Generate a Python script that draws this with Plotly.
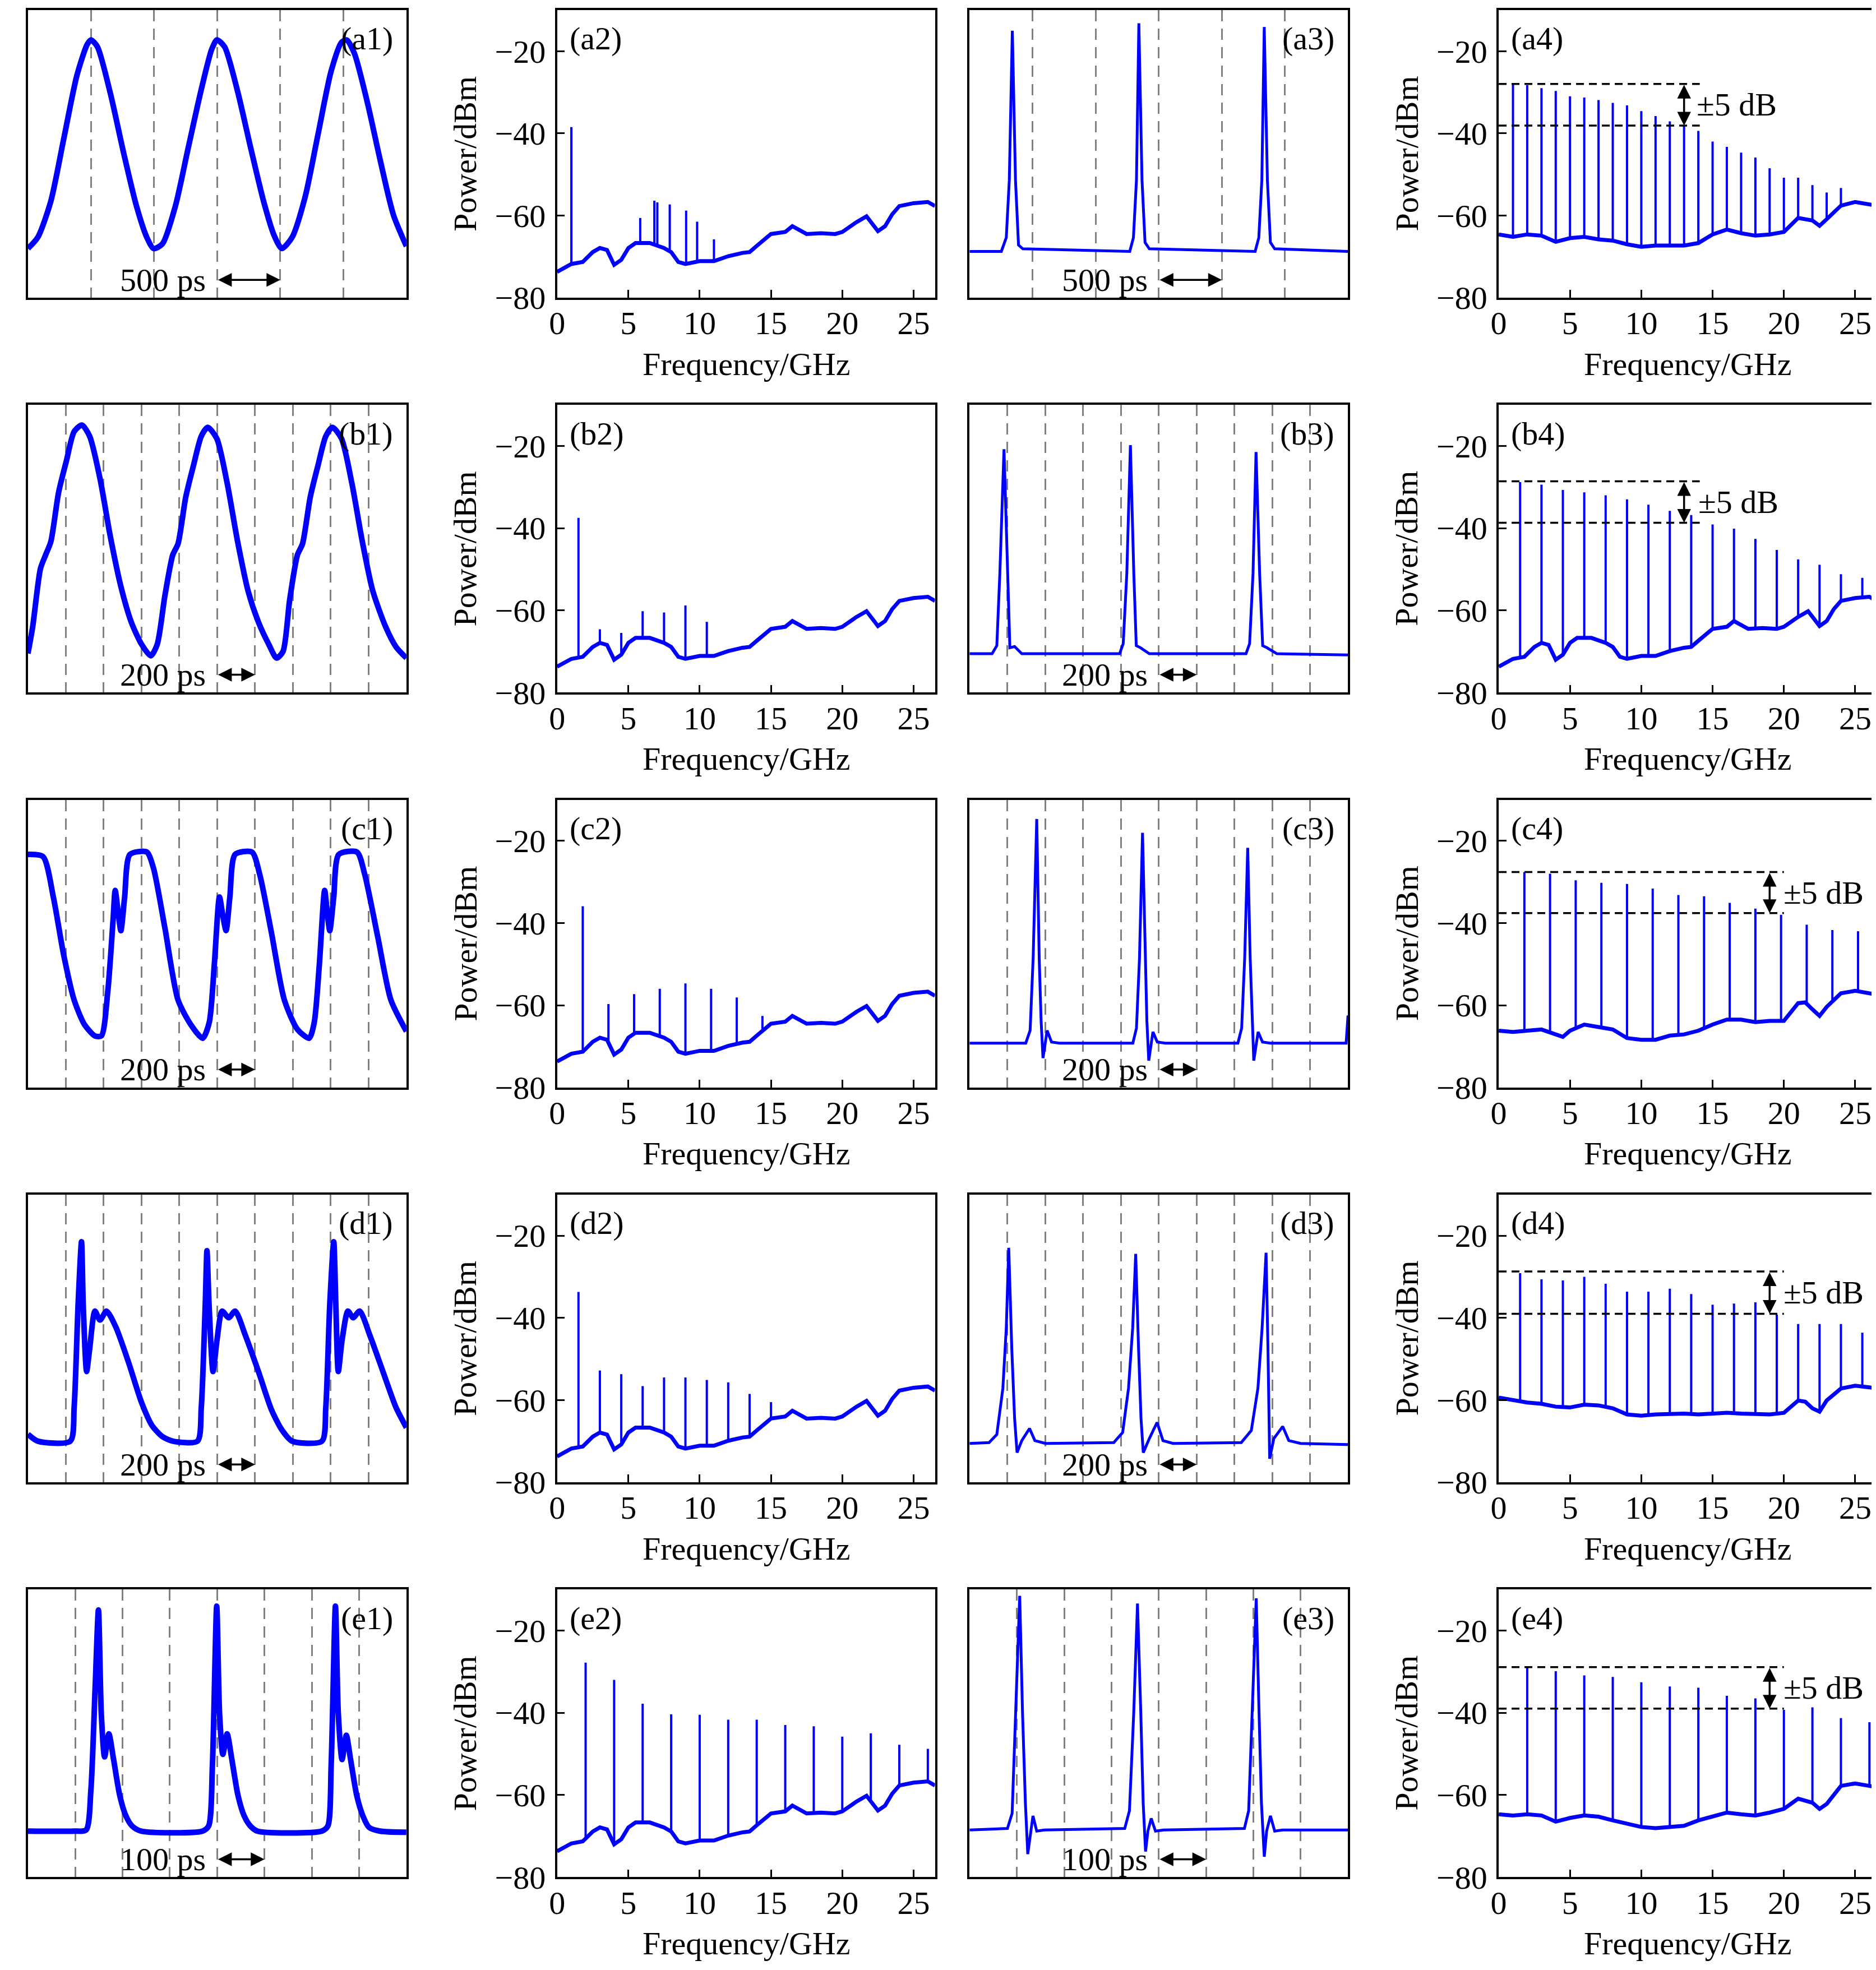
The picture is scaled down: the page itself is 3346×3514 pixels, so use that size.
import numpy as np
import plotly.graph_objects as go

# ======================= DATA =======================
ROW_IDS = ["a", "b", "c", "d", "e"]
TIME_SPAN = [3000, 2000, 2000, 2000, 800]          # ps shown in each time panel
TIME_DIV = [500, 200, 200, 200, 100]               # ps per dashed division
SCALE_TEXT = ["500 ps", "200 ps", "200 ps", "200 ps", "100 ps"]
SCALE_START = [1500, 1000, 1000, 1000, 400]        # ps where the scale arrow starts

# ---- time-domain traces: time (ps), normalised intensity ----
A1_T = [0, 78, 181, 284, 387, 469, 500, 551, 654, 757, 860, 942, 996, 1066, 1169, 1271, 1374, 1457, 1498, 1559,
        1662, 1765, 1868, 1950, 2012, 2094, 2197, 2300, 2403, 2486, 2527, 2588, 2691, 2794, 2897, 3000]
A1_V = [0.171, 0.21, 0.335, 0.553, 0.771, 0.88, 0.896, 0.872, 0.709, 0.506, 0.319, 0.21, 0.171, 0.187, 0.319, 0.522,
        0.724, 0.864, 0.896, 0.872, 0.717, 0.522, 0.335, 0.218, 0.171, 0.21, 0.35, 0.569, 0.787, 0.888, 0.896, 0.849,
        0.678, 0.475, 0.288, 0.179]
B1_T = [0, 25, 66, 93, 121, 162, 203, 244, 285, 326, 381, 436, 491, 546, 601, 649, 683, 724, 765, 793, 834, 875, 916,
        950, 998, 1053, 1108, 1163, 1218, 1273, 1314, 1348, 1383, 1424, 1451, 1492, 1533, 1574, 1609, 1657, 1712, 1767,
        1822, 1890, 1945, 2000]
B1_V = [0.136, 0.229, 0.431, 0.478, 0.525, 0.696, 0.805, 0.907, 0.93, 0.891, 0.743, 0.54, 0.369, 0.245, 0.167, 0.128,
        0.167, 0.338, 0.478, 0.517, 0.68, 0.79, 0.891, 0.922, 0.883, 0.727, 0.525, 0.354, 0.245, 0.167, 0.12, 0.143,
        0.322, 0.478, 0.517, 0.68, 0.79, 0.891, 0.922, 0.883, 0.727, 0.525, 0.354, 0.229, 0.159, 0.12]
C1_T = [0, 80, 134, 189, 244, 299, 354, 388, 422, 450, 461, 477, 491, 511, 539, 628, 663, 724, 793, 861, 923, 958, 985,
        1012, 1029, 1047, 1067, 1095, 1184, 1225, 1287, 1355, 1424, 1486, 1513, 1540, 1568, 1582, 1595, 1616, 1643,
        1739, 1780, 1849, 1918, 2000]
C1_V = [0.81, 0.802, 0.662, 0.46, 0.304, 0.218, 0.179, 0.179, 0.335, 0.584, 0.685, 0.607, 0.545, 0.662, 0.81, 0.818,
        0.763, 0.553, 0.304, 0.218, 0.171, 0.226, 0.428, 0.662, 0.6, 0.545, 0.662, 0.81, 0.818, 0.74, 0.537, 0.304,
        0.202, 0.171, 0.226, 0.428, 0.685, 0.607, 0.545, 0.662, 0.81, 0.818, 0.74, 0.522, 0.304, 0.195]
D1_T = [0, 52, 224, 244, 265, 283, 292, 310, 326, 354, 381, 415, 464, 532, 601, 655, 710, 765, 896, 916, 937, 946, 957,
        978, 999, 1026, 1061, 1095, 1150, 1218, 1287, 1342, 1396, 1554, 1574, 1595, 1616, 1627, 1640, 1660, 1691, 1719,
        1753, 1808, 1876, 1945, 2000]
D1_V = [0.167, 0.143, 0.143, 0.26, 0.618, 0.836, 0.618, 0.385, 0.463, 0.595, 0.564, 0.595, 0.54, 0.416, 0.276, 0.198,
        0.159, 0.143, 0.143, 0.26, 0.618, 0.805, 0.618, 0.385, 0.494, 0.595, 0.572, 0.595, 0.509, 0.385, 0.252, 0.182,
        0.143, 0.143, 0.26, 0.618, 0.836, 0.618, 0.385, 0.494, 0.595, 0.572, 0.595, 0.509, 0.385, 0.26, 0.19]
E1_T = [0, 97, 123, 133, 142, 149, 155, 162, 171, 181, 194, 207, 220, 239, 369, 382, 390, 399, 405, 412, 421, 431, 444,
        457, 470, 485, 621, 634, 641, 650, 656, 664, 673, 682, 695, 708, 721, 744, 800]
E1_V = [0.16, 0.16, 0.164, 0.302, 0.658, 0.929, 0.569, 0.418, 0.498, 0.409, 0.284, 0.213, 0.178, 0.16, 0.16, 0.178,
        0.391, 0.942, 0.569, 0.427, 0.498, 0.409, 0.284, 0.213, 0.178, 0.16, 0.16, 0.178, 0.391, 0.942, 0.569, 0.409,
        0.493, 0.409, 0.284, 0.213, 0.173, 0.16, 0.156]

A3_T = [0, 252, 291, 315, 339, 364, 388, 422, 1270, 1299, 1323, 1342, 1367, 1391, 1425, 2264, 2293, 2317, 2336, 2361,
        2385, 2419, 3000]
A3_V = [0.161, 0.161, 0.209, 0.409, 0.928, 0.409, 0.183, 0.17, 0.161, 0.209, 0.409, 0.954, 0.409, 0.192, 0.17, 0.161,
        0.209, 0.409, 0.941, 0.409, 0.192, 0.17, 0.161]
B3_T = [0, 119, 144, 160, 182, 201, 213, 238, 276, 793, 812, 831, 850, 868, 881, 903, 950, 1461, 1480, 1498, 1514, 1533,
        1549, 1571, 1624, 2000]
B3_V = [0.135, 0.135, 0.163, 0.414, 0.846, 0.414, 0.156, 0.16, 0.135, 0.135, 0.17, 0.414, 0.86, 0.414, 0.163, 0.156,
        0.135, 0.135, 0.17, 0.414, 0.836, 0.414, 0.163, 0.156, 0.135, 0.131]
C3_T = [0, 297, 320, 336, 355, 368, 378, 388, 410, 433, 475, 863, 882, 898, 914, 927, 937, 947, 969, 992, 1034, 1418,
        1438, 1454, 1470, 1483, 1493, 1502, 1525, 1548, 1590, 1990, 2000]
C3_V = [0.154, 0.154, 0.198, 0.45, 0.933, 0.45, 0.232, 0.102, 0.198, 0.158, 0.154, 0.154, 0.206, 0.45, 0.885, 0.45,
        0.232, 0.093, 0.193, 0.158, 0.154, 0.154, 0.206, 0.45, 0.833, 0.45, 0.232, 0.093, 0.193, 0.158, 0.154, 0.154,
        0.25]
D3_T = [0, 103, 144, 176, 194, 207, 223, 238, 251, 276, 317, 345, 401, 762, 809, 840, 862, 878, 893, 906, 918, 950, 991,
        1022, 1075, 1436, 1489, 1524, 1546, 1567, 1577, 1586, 1608, 1655, 1687, 1749, 2000]
D3_V = [0.135, 0.138, 0.166, 0.327, 0.536, 0.815, 0.466, 0.222, 0.103, 0.145, 0.187, 0.145, 0.135, 0.138, 0.173, 0.327,
        0.536, 0.794, 0.466, 0.222, 0.103, 0.152, 0.208, 0.145, 0.135, 0.138, 0.18, 0.327, 0.536, 0.798, 0.466, 0.082,
        0.152, 0.194, 0.145, 0.135, 0.131]
E3_T = [0, 80, 90, 98, 106, 112, 118, 123, 129, 134, 142, 158, 328, 338, 347, 355, 362, 367, 372, 377, 384, 393, 410,
        581, 590, 598, 606, 612, 617, 623, 628, 636, 645, 662, 800]
E3_V = [0.164, 0.169, 0.222, 0.569, 0.978, 0.569, 0.258, 0.08, 0.16, 0.213, 0.16, 0.164, 0.169, 0.231, 0.569, 0.951,
        0.569, 0.258, 0.089, 0.16, 0.204, 0.16, 0.164, 0.169, 0.231, 0.569, 0.969, 0.569, 0.258, 0.071, 0.16, 0.213,
        0.16, 0.164, 0.164]

# ---- spectra: noise floors (GHz, dBm) ----
FLOOR_ESA_F = [0, 0.5, 1, 1.8, 2.5, 3, 3.5, 4, 4.5, 5, 5.5, 6.5, 7, 7.5, 8, 8.5, 9, 10, 11, 12, 13, 13.5, 14, 15, 16,
               16.5, 17.5, 18.5, 19.5, 20, 21, 21.7, 22.5, 23, 23.5, 24, 25, 26, 26.5]
FLOOR_ESA_P = [-73.7, -72.8, -71.8, -71.3, -68.9, -67.9, -68.4, -72.0, -70.8, -67.9, -66.7, -66.7, -67.2, -67.9, -68.9,
               -71.3, -71.8, -71.1, -71.1, -69.9, -69.1, -68.9, -67.4, -64.5, -64.0, -62.6, -64.5, -64.3, -64.5, -64.0,
               -61.6, -60.2, -63.8, -62.6, -59.7, -57.7, -57.0, -56.7, -57.7]
A4_FLOOR_F = [0, 1, 2, 3, 4, 5, 6, 7, 8, 9, 10, 11, 12, 13, 14, 15, 16, 17, 18, 19, 20, 21, 22, 22.5, 23, 24, 25, 26, 26.5]
A4_FLOOR_P = [-64.6, -65.2, -64.6, -64.9, -66.4, -65.5, -65.2, -65.8, -66.1, -67.0, -67.6, -67.3, -67.3, -67.3, -66.7,
              -64.6, -63.4, -64.3, -64.9, -64.6, -64.0, -60.6, -61.2, -62.5, -60.9, -57.6, -56.7, -57.3, -57.6]
C4_FLOOR_F = [0, 1, 2, 3, 4, 4.5, 5, 6, 7, 8, 9, 10, 11, 12, 13, 14, 15, 16, 17, 18, 19, 20, 21, 21.5, 22, 22.5, 23, 24,
              25, 26, 26.5]
C4_FLOOR_P = [-66.2, -66.5, -66.2, -65.9, -67.1, -67.7, -66.2, -64.7, -65.3, -65.9, -68.0, -68.4, -68.4, -67.4, -67.1,
              -66.2, -64.7, -63.5, -63.5, -64.1, -63.8, -63.8, -59.5, -59.3, -61.0, -62.6, -60.4, -57.1, -56.5, -57.1,
              -57.4]
D4_FLOOR_F = [0, 1, 2, 3, 4, 5, 6, 7, 8, 9, 10, 11, 12, 13, 14, 15, 16, 17, 18, 19, 20, 21, 21.5, 22, 22.5, 23, 24, 25,
              26, 26.5]
D4_FLOOR_P = [-59.4, -60.1, -60.6, -60.9, -61.6, -61.8, -61.1, -61.3, -62.0, -63.5, -63.8, -63.5, -63.3, -63.3, -63.5,
              -63.3, -63.1, -63.3, -63.3, -63.5, -63.1, -60.1, -60.4, -62.0, -62.8, -60.1, -57.2, -56.5, -56.9, -57.2]
E4_FLOOR_F = [0, 1, 2, 3, 4, 5, 6, 7, 8, 9, 10, 11, 12, 13, 14, 15, 16, 17, 18, 19, 20, 21, 22, 22.5, 23, 24, 25, 26, 26.5]
E4_FLOOR_P = [-64.7, -65.0, -64.7, -65.0, -66.5, -65.6, -65.0, -65.3, -66.2, -67.1, -67.8, -68.1, -67.8, -67.5, -66.2,
              -65.3, -64.3, -64.7, -65.0, -64.3, -63.4, -60.9, -61.9, -63.4, -62.2, -57.8, -57.2, -57.8, -58.1]

# ---- spectra: comb lines (GHz, peak dBm) ----
A2_F = [1.0, 5.83, 6.82, 7.03, 7.9, 9.05, 9.82, 11.0]
A2_P = [-38.5, -60.6, -56.4, -56.8, -57.3, -58.8, -61.5, -65.8]
B2_F = [1.5, 3.0, 4.5, 6.0, 7.5, 9.0, 10.5]
B2_P = [-37.5, -64.6, -65.5, -60.2, -60.5, -58.8, -62.8]
C2_F = [1.8, 3.6, 5.4, 7.2, 9.0, 10.8, 12.6, 14.4]
C2_P = [-35.9, -59.7, -57.3, -56.0, -54.7, -56.0, -58.1, -62.6]
D2_F = [1.5, 3.0, 4.5, 6.0, 7.5, 9.0, 10.5, 12.0, 13.5, 15.0]
D2_P = [-33.7, -52.8, -53.7, -56.6, -54.5, -54.5, -55.1, -55.7, -58.5, -60.5]
E2_F = [2, 4, 6, 8, 10, 12, 14, 16, 18, 20, 22, 24, 26]
E2_P = [-27.8, -32.0, -37.8, -40.4, -40.5, -41.7, -41.7, -43.0, -43.3, -45.8, -45.0, -47.8, -48.8]

A4_F = [1, 2, 3, 4, 5, 6, 7, 8, 9, 10, 11, 12, 13, 14, 15, 16, 17, 18, 19, 20, 21, 22, 23, 24]
A4_P = [-28.0, -28.3, -29.0, -29.7, -31.0, -31.3, -31.9, -32.6, -33.2, -34.6, -35.8, -37.1, -38.0, -39.4, -42.0,
        -43.3, -44.7, -45.9, -48.5, -50.8, -50.8, -52.6, -54.4, -53.3]
B4_F = [1.5, 3.0, 4.5, 6.0, 7.5, 9.0, 10.5, 12.0, 13.5, 15.0, 16.5, 18.0, 19.5, 21.0, 22.5, 24.0, 25.5]
B4_P = [-28.8, -29.4, -30.7, -31.3, -32.0, -33.0, -34.3, -35.8, -36.8, -39.1, -40.1, -42.6, -45.3, -47.6, -48.9,
        -51.2, -52.1]
C4_F = [1.8, 3.6, 5.4, 7.2, 9.0, 10.8, 12.6, 14.4, 16.2, 18.0, 19.8, 21.6, 23.4, 25.2]
C4_P = [-27.6, -28.0, -29.6, -30.2, -30.5, -31.6, -33.2, -33.5, -35.1, -36.5, -38.0, -40.4, -41.7, -42.0]
D4_F = [1.5, 3.0, 4.5, 6.0, 7.5, 9.0, 10.5, 12.0, 13.5, 15.0, 16.5, 18.0, 19.5, 21.0, 22.5, 24.0, 25.5]
D4_P = [-29.1, -30.6, -30.9, -30.0, -31.7, -33.6, -33.6, -32.9, -34.2, -36.8, -36.5, -36.2, -39.2, -41.5, -41.5,
        -41.5, -43.6]
E4_F = [2, 4, 6, 8, 10, 12, 14, 16, 18, 20, 22, 24, 26]
E4_P = [-28.9, -29.9, -30.9, -31.3, -32.6, -33.6, -33.9, -35.9, -36.5, -39.3, -38.7, -41.3, -42.3]

# ---- ±5 dB flatness markers in column 4 ----
FLAT_TOP = [-28.0, -28.6, -27.6, -28.7, -28.9]
FLAT_BOT = [-38.1, -38.7, -37.6, -39.0, -39.0]
FLAT_XEND = [14.1, 14.1, 20.0, 20.0, 20.0]
FLAT_ARROW_X = [13.0, 13.0, 19.0, 19.0, 19.0]
FLAT_TEXT_X = [13.8, 13.9, 19.9, 19.9, 19.9]
FLAT_TEXT = "±5 dB"

FREQ_TICKS = [0, 5, 10, 15, 20, 25]
POWER_TICKS = [-80, -60, -40, -20]

TIME1 = [(A1_T, A1_V), (B1_T, B1_V), (C1_T, C1_V), (D1_T, D1_V), (E1_T, E1_V)]
TIME3 = [(A3_T, A3_V), (B3_T, B3_V), (C3_T, C3_V), (D3_T, D3_V), (E3_T, E3_V)]
SPEC2 = [(FLOOR_ESA_F, FLOOR_ESA_P, A2_F, A2_P), (FLOOR_ESA_F, FLOOR_ESA_P, B2_F, B2_P),
         (FLOOR_ESA_F, FLOOR_ESA_P, C2_F, C2_P), (FLOOR_ESA_F, FLOOR_ESA_P, D2_F, D2_P),
         (FLOOR_ESA_F, FLOOR_ESA_P, E2_F, E2_P)]
SPEC4 = [(A4_FLOOR_F, A4_FLOOR_P, A4_F, A4_P), (FLOOR_ESA_F, FLOOR_ESA_P, B4_F, B4_P),
         (C4_FLOOR_F, C4_FLOOR_P, C4_F, C4_P), (D4_FLOOR_F, D4_FLOOR_P, D4_F, D4_P),
         (E4_FLOOR_F, E4_FLOOR_P, E4_F, E4_P)]

# ======================= LAYOUT / STYLE =======================
W, H = 3346, 3514
FONT = "Liberation Serif"
FS = 58
BLUE = "#0000ff"
COL_PX = [(27, 705), (975, 1652), (1714, 2392), (2662, 3339)]
ROW_TOP = [10, 721, 1432, 2143, 2854]
PANEL_H = 518

fig = go.Figure()
layout = dict(width=W, height=H, margin=dict(l=0, r=0, t=0, b=0), paper_bgcolor="white",
              plot_bgcolor="white", showlegend=False, font=dict(family=FONT, size=FS, color="black"))
annotations, shapes = [], []


def ids(k):
    return ("x" if k == 1 else f"x{k}"), ("y" if k == 1 else f"y{k}")


frame = dict(showline=True, linecolor="black", linewidth=3.5, mirror=True, zeroline=False)

for r in range(5):
    for c in range(4):
        k = r * 4 + c + 1
        xr, yr = ids(k)
        xname = "xaxis" if k == 1 else f"xaxis{k}"
        yname = "yaxis" if k == 1 else f"yaxis{k}"
        l, rr = COL_PX[c]
        top = ROW_TOP[r]
        xdom = [l / W, rr / W]
        ydom = [1 - (top + PANEL_H) / H, 1 - top / H]
        label = f"({ROW_IDS[r]}{c + 1})"

        if c in (0, 2):
            tt, vv = (TIME1 if c == 0 else TIME3)[r]
            layout[xname] = dict(domain=xdom, anchor=yr, range=[0, TIME_SPAN[r]], tick0=0, dtick=TIME_DIV[r],
                                 showgrid=True, gridcolor="#808080", gridwidth=2.5, griddash="20px,13px",
                                 ticks="", showticklabels=False, **frame)
            layout[yname] = dict(domain=ydom, anchor=xr, range=[0, 1], showgrid=False, ticks="",
                                 showticklabels=False, **frame)
            if c == 0:
                line = dict(color=BLUE, width=10, shape="spline", smoothing=0.7)
            else:
                line = dict(color=BLUE, width=5)
            fig.add_trace(go.Scatter(x=tt, y=vv, xaxis=xr, yaxis=yr, mode="lines", line=line))
            annotations.append(dict(text=label, xref=f"{xr} domain", yref=f"{yr} domain", x=1, y=1,
                                    xanchor="right", yanchor="middle", xshift=-22, yshift=-51, showarrow=False))
            s0 = SCALE_START[r]
            annotations.append(dict(text=SCALE_TEXT[r], xref=xr, yref=yr, x=s0, y=0.062, xanchor="right",
                                    yanchor="middle", xshift=-18, showarrow=False))
            annotations.append(dict(text="", xref=xr, yref=yr, x=s0 + TIME_DIV[r], y=0.062, axref=xr, ayref=yr,
                                    ax=s0, ay=0.062, showarrow=True, arrowhead=2, startarrowhead=2,
                                    arrowside="end+start", arrowwidth=3.5, arrowsize=1.4, arrowcolor="black",
                                    standoff=0, startstandoff=0))
        else:
            ff, fp, cf, cp = (SPEC2 if c == 1 else SPEC4)[r]
            layout[xname] = dict(domain=xdom, anchor=yr, range=[0, 26.5], tickvals=FREQ_TICKS, ticks="inside",
                                 ticklen=14, tickwidth=3, tickcolor="black", showgrid=False,
                                 tickfont=dict(size=FS), ticklabelstandoff=-8, **frame)
            layout[yname] = dict(domain=ydom, anchor=xr, range=[-80, -10], tickvals=POWER_TICKS, ticks="inside",
                                 ticklen=14, tickwidth=3, tickcolor="black", showgrid=False,
                                 tickfont=dict(size=FS), ticklabelstandoff=5, **frame)
            fig.add_trace(go.Scatter(x=ff, y=fp, xaxis=xr, yaxis=yr, mode="lines",
                                     line=dict(color=BLUE, width=7)))
            xs, ys = [], []
            for f, p in zip(cf, cp):
                base = float(np.interp(f, ff, fp))
                xs += [f, f, None]
                ys += [base, p, None]
            fig.add_trace(go.Scatter(x=xs, y=ys, xaxis=xr, yaxis=yr, mode="lines",
                                     line=dict(color=BLUE, width=4)))
            annotations.append(dict(text=label, xref=f"{xr} domain", yref=f"{yr} domain", x=0, y=1,
                                    xanchor="left", yanchor="middle", xshift=20, yshift=-51, showarrow=False))
            annotations.append(dict(text="Frequency/GHz", xref=f"{xr} domain", yref=f"{yr} domain", x=0.5, y=0,
                                    xanchor="center", yanchor="middle", yshift=-118, showarrow=False))
            annotations.append(dict(text="Power/dBm", xref=f"{xr} domain", yref=f"{yr} domain", x=0, y=0.5,
                                    xanchor="center", yanchor="middle", xshift=-164, textangle=-90,
                                    showarrow=False))
            if c == 3:
                for yv in (FLAT_TOP[r], FLAT_BOT[r]):
                    shapes.append(dict(type="line", xref=xr, yref=yr, x0=0, x1=FLAT_XEND[r], y0=yv, y1=yv,
                                       line=dict(color="black", width=3.5, dash="14px,9px")))
                annotations.append(dict(text="", xref=xr, yref=yr, x=FLAT_ARROW_X[r], y=FLAT_BOT[r], axref=xr,
                                        ayref=yr, ax=FLAT_ARROW_X[r], ay=FLAT_TOP[r], showarrow=True,
                                        arrowhead=2, startarrowhead=2, arrowside="end+start", arrowwidth=3.5,
                                        arrowsize=1.4, arrowcolor="black", standoff=0, startstandoff=0))
                annotations.append(dict(text=FLAT_TEXT, xref=xr, yref=yr, x=FLAT_TEXT_X[r],
                                        y=(FLAT_TOP[r] + FLAT_BOT[r]) / 2, xanchor="left", yanchor="middle",
                                        showarrow=False))

layout["annotations"] = annotations
layout["shapes"] = shapes
fig.update_layout(**layout)
fig.write_html("out.html")
